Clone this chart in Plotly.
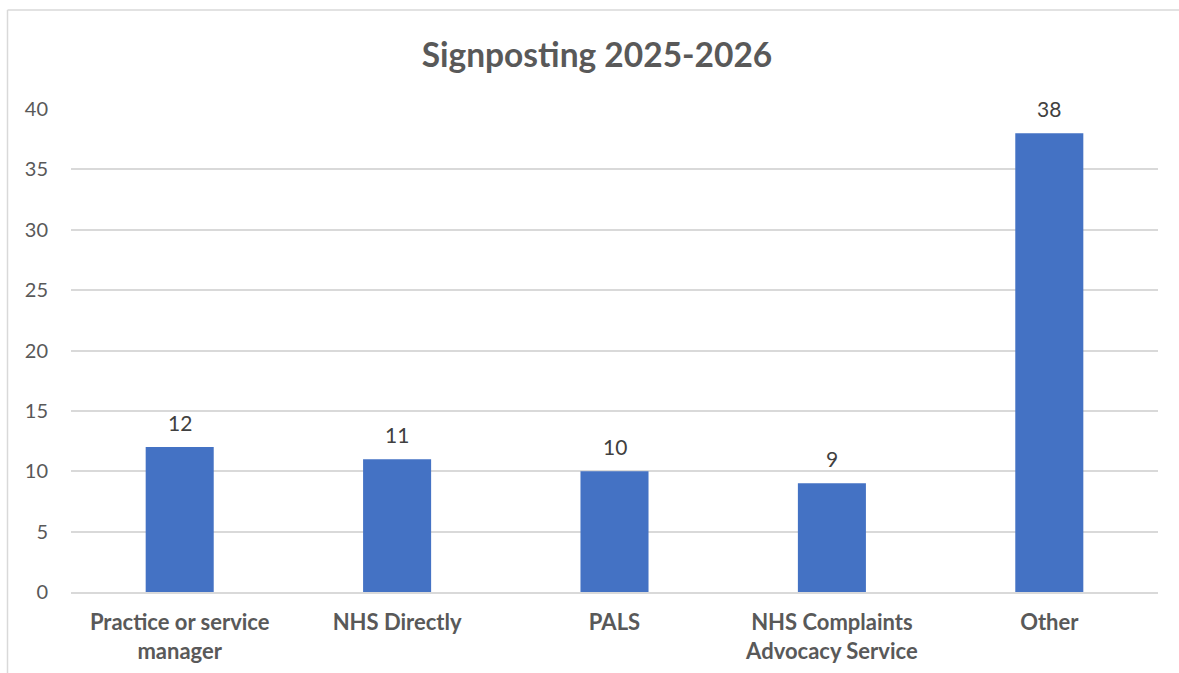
import plotly.graph_objects as go

categories = ["Practice or service<br>manager", "NHS Directly", "PALS", "NHS Complaints<br>Advocacy Service", "Other"]
values = [12, 11, 10, 9, 38]
y_ticks = [0, 5, 10, 15, 20, 25, 30, 35, 40]

W, H = 1179, 673
L, T = 71, 109
pw, ph = 1087, 483
R, B = W - L - pw, H - T - ph

FONT = "Lato, Carlito, sans-serif"

fig = go.Figure()
fig.add_trace(go.Bar(
    x=categories, y=values,
    marker=dict(color="#4472C4", line=dict(width=0)),
    hoverinfo="x+y",
))

for c, v in zip(categories, values):
    fig.add_annotation(x=c, y=v, text=str(v), showarrow=False,
                       yanchor="middle", yshift=25,
                       font=dict(family=FONT, size=21, color="#404040"))

bx0 = (7.5 - L) / pw
bx1 = (W + 40 - L) / pw
by0 = -(H + 40 - T - ph) / ph
by1 = (ph + T - 10) / ph

fig.update_layout(
    width=W, height=H,
    margin=dict(l=L, r=R, t=T, b=B, autoexpand=False),
    paper_bgcolor="white", plot_bgcolor="white",
    bargap=0.687,
    showlegend=False,
    title=dict(text="<b>Signposting 2025-2026</b>", x=(597 - L) / pw, xref="paper", xanchor="center",
               y=1 - 55 / H, yanchor="middle",
               font=dict(family=FONT, size=33.5, color="#595959")),
    font=dict(family=FONT, color="#595959"),
    xaxis=dict(
        tickfont=dict(size=22, color="#595959", family=FONT, weight="bold"),
        showgrid=False, showline=True, linecolor="#d9d9d9", linewidth=1.5,
        ticks="", ticklabelstandoff=10, automargin=False,
    ),
    yaxis=dict(
        range=[0, 40], tickvals=y_ticks,
        tickfont=dict(size=20, color="#595959"),
        showgrid=True, gridcolor="#d9d9d9", gridwidth=1.5,
        zeroline=False, showline=False, ticks="", ticklabelstandoff=22, automargin=False,
    ),
    shapes=[
        dict(type="line", xref="paper", yref="paper", x0=bx0, x1=bx0, y0=by0, y1=by1,
             line=dict(color="#d9d9d9", width=1.5), layer="below"),
        dict(type="line", xref="paper", yref="paper", x0=bx0, x1=bx1, y0=by1, y1=by1,
             line=dict(color="#d9d9d9", width=1.5), layer="below"),
    ],
)

fig.write_html(
    "out.html",
    config={"displayModeBar": False},
    post_script="document.body.style.margin='0';document.body.style.overflow='hidden';",
)
